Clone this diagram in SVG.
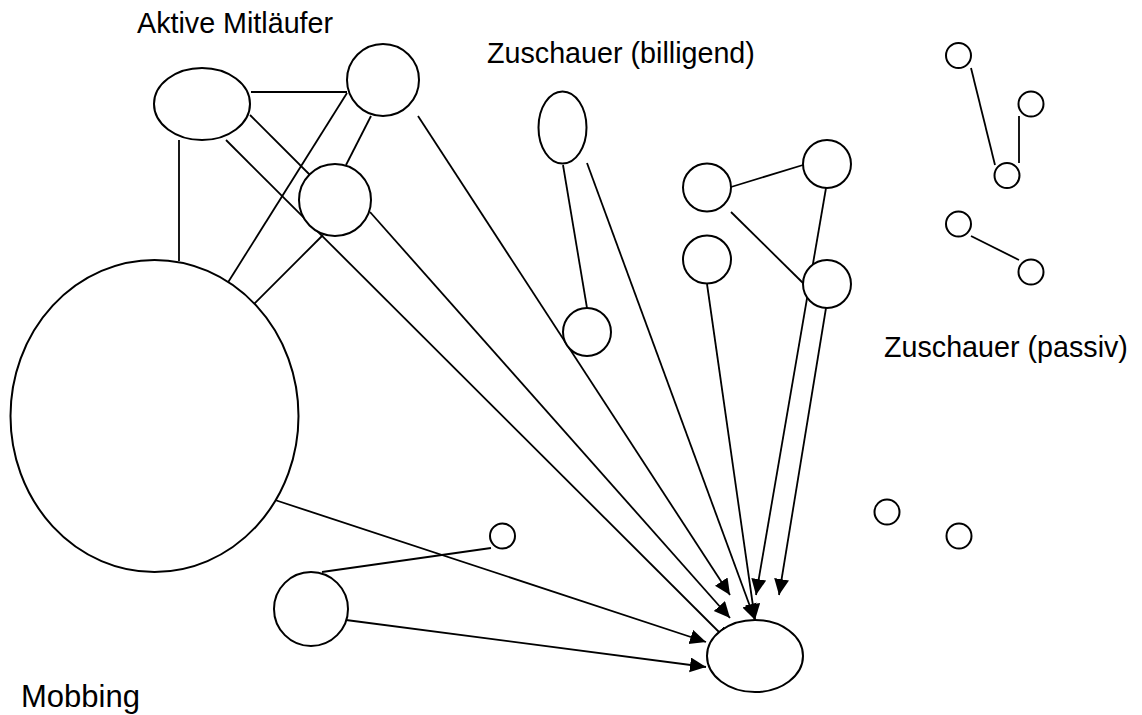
<svg xmlns="http://www.w3.org/2000/svg" width="1142" height="715" viewBox="0 0 1142 715">
  <style>
    .node { fill: #ffffff; stroke: #000000; stroke-width: 2; }
    .link { fill: none; stroke: #000000; stroke-width: 1.8; }
    .arrow { fill: none; stroke: #000000; stroke-width: 1.8; marker-end: url(#head); }
    .label { font-family: "Liberation Sans", Arial, sans-serif; font-size: 28.7px; fill: #000000; }
  </style>
  <defs>
    <marker id="head" markerUnits="userSpaceOnUse" markerWidth="18" markerHeight="18" refX="16" refY="7.5" orient="auto">
      <path d="M0,0 L16,7.5 L0,15 z" fill="#000000"/>
    </marker>
  </defs>
  <rect width="1142" height="715" fill="#ffffff"/>

  <!-- group labels -->
  <text class="label" x="137" y="33">Aktive Mitläufer</text>
  <text class="label" x="487" y="63">Zuschauer (billigend)</text>
  <text class="label" x="884" y="357">Zuschauer (passiv)</text>
  <text class="label" x="21" y="707" style="font-size:31px">Mobbing</text>

  <!-- connectors -->
  <g id="connectors">
    <!-- active followers and the bully -->
    <line class="link" x1="251" y1="92" x2="347" y2="92"/>
    <line class="link" x1="250" y1="115" x2="323" y2="188"/>
    <line class="link" x1="179" y1="140" x2="179" y2="261"/>
    <line class="link" x1="347" y1="93" x2="227" y2="284"/>
    <line class="link" x1="371" y1="116" x2="346" y2="165"/>
    <line class="link" x1="323" y1="235" x2="251" y2="307"/>
    <!-- approving bystanders -->
    <line class="link" x1="563" y1="165" x2="587" y2="308"/>
    <line class="link" x1="731" y1="187" x2="803" y2="165"/>
    <line class="link" x1="731" y1="212" x2="803" y2="283"/>
    <!-- passive bystanders -->
    <line class="link" x1="971" y1="68" x2="995" y2="165"/>
    <line class="link" x1="1019" y1="116" x2="1019" y2="163"/>
    <line class="link" x1="971" y1="236" x2="1019" y2="260"/>
    <line class="link" x1="322" y1="572" x2="491" y2="548"/>
    <!-- arrows to the victim -->
    <line class="arrow" x1="418" y1="116" x2="730" y2="595"/>
    <line class="arrow" x1="826" y1="188" x2="756" y2="595"/>
    <line class="arrow" x1="826" y1="308" x2="779" y2="595"/>
    <line class="arrow" x1="370" y1="212" x2="730" y2="618"/>
    <line class="arrow" x1="587" y1="163" x2="755" y2="620"/>
    <line class="arrow" x1="707" y1="284" x2="755" y2="620"/>
    <line class="arrow" x1="226" y1="140" x2="730" y2="643"/>
    <line class="arrow" x1="275" y1="500" x2="706" y2="642"/>
    <line class="arrow" x1="346" y1="620" x2="706" y2="667"/>
  </g>

  <!-- nodes -->
  <g id="bully"><ellipse class="node" cx="154.5" cy="416" rx="144" ry="156"/></g>
  <g id="follower-1"><ellipse class="node" cx="202" cy="104" rx="48" ry="36"/></g>
  <g id="follower-2"><circle class="node" cx="383" cy="80" r="36"/></g>
  <g id="follower-3"><circle class="node" cx="335" cy="200" r="36"/></g>
  <g id="approver-1"><ellipse class="node" cx="562.5" cy="127.5" rx="24" ry="36"/></g>
  <g id="approver-2"><circle class="node" cx="587" cy="332" r="24"/></g>
  <g id="approver-3"><circle class="node" cx="707" cy="187.5" r="24"/></g>
  <g id="approver-4"><circle class="node" cx="827" cy="164" r="24"/></g>
  <g id="approver-5"><circle class="node" cx="707" cy="259.5" r="24"/></g>
  <g id="approver-6"><circle class="node" cx="827" cy="284" r="24"/></g>
  <g id="passive-1"><circle class="node" cx="958.5" cy="55.5" r="12.5"/></g>
  <g id="passive-2"><circle class="node" cx="1031" cy="104" r="12.5"/></g>
  <g id="passive-3"><circle class="node" cx="1007" cy="175.5" r="12.5"/></g>
  <g id="passive-4"><circle class="node" cx="958.5" cy="224" r="12.5"/></g>
  <g id="passive-5"><circle class="node" cx="1031" cy="272" r="12.5"/></g>
  <g id="passive-6"><circle class="node" cx="887" cy="512" r="12.5"/></g>
  <g id="passive-7"><circle class="node" cx="959" cy="536" r="12.5"/></g>
  <g id="passive-8"><circle class="node" cx="502.5" cy="536" r="12.5"/></g>
  <g id="helper"><circle class="node" cx="311" cy="609" r="37"/></g>
  <g id="victim"><ellipse class="node" cx="755" cy="656" rx="48" ry="36"/></g>
</svg>
